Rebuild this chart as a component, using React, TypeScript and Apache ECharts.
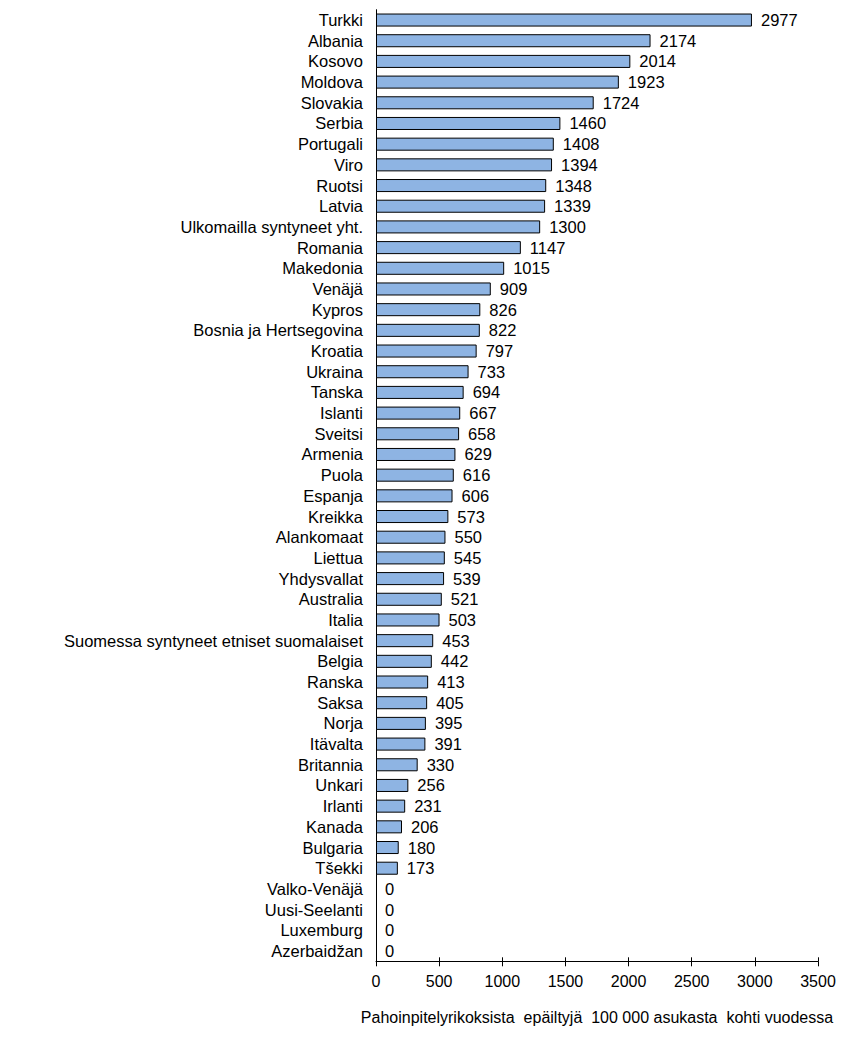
import React, { useEffect, useRef } from "react";
import * as echarts from "echarts";

const categories = [
  "Turkki", "Albania", "Kosovo", "Moldova", "Slovakia", "Serbia", "Portugali", "Viro", "Ruotsi", "Latvia",
  "Ulkomailla syntyneet yht.", "Romania", "Makedonia", "Venäjä", "Kypros", "Bosnia ja Hertsegovina", "Kroatia",
  "Ukraina", "Tanska", "Islanti", "Sveitsi", "Armenia", "Puola", "Espanja", "Kreikka", "Alankomaat", "Liettua",
  "Yhdysvallat", "Australia", "Italia", "Suomessa syntyneet etniset suomalaiset", "Belgia", "Ranska", "Saksa",
  "Norja", "Itävalta", "Britannia", "Unkari", "Irlanti", "Kanada", "Bulgaria", "Tšekki", "Valko-Venäjä",
  "Uusi-Seelanti", "Luxemburg", "Azerbaidžan",
];

const values = [
  2977, 2174, 2014, 1923, 1724, 1460, 1408, 1394, 1348, 1339,
  1300, 1147, 1015, 909, 826, 822, 797,
  733, 694, 667, 658, 629, 616, 606, 573, 550, 545,
  539, 521, 503, 453, 442, 413, 405,
  395, 391, 330, 256, 231, 206, 180, 173, 0,
  0, 0, 0,
];

const axisName = "Pahoinpitelyrikoksista  epäiltyjä  100 000 asukasta  kohti vuodessa";
const xMin = 0;
const xMax = 3500;
const xStep = 500;

export default function App() {
  const ref = useRef<HTMLDivElement>(null);
  useEffect(() => {
    if (!ref.current) return;
    const chart = echarts.init(ref.current, null, { renderer: "svg" });
    const font = "Arial, 'Liberation Sans', sans-serif";
    const seriesData = values.map((v) =>
      v === 0 ? { value: v, itemStyle: { borderWidth: 0, color: "transparent" } } : v
    );
    chart.setOption({
      animation: false,
      textStyle: { fontFamily: font },
      grid: { left: 376, right: 29, top: 9.7, bottom: 78.7, containLabel: false },
      xAxis: [
        {
          type: "value",
          min: xMin,
          max: xMax,
          interval: xStep,
          splitLine: { show: false },
          axisLine: { show: true, lineStyle: { color: "#000", width: 1 } },
          axisTick: { show: true, length: 5, lineStyle: { color: "#000" } },
          axisLabel: {
            color: "#000",
            fontSize: 16,
            fontFamily: font,
            margin: 12,
            formatter: (v: number) => String(v),
          },
          name: axisName,
          nameLocation: "middle",
          nameGap: 48,
          nameTextStyle: { color: "#000", fontSize: 16, fontFamily: font },
        },
        {
          type: "value",
          position: "bottom",
          min: xMin,
          max: xMax,
          interval: xStep,
          splitLine: { show: false },
          axisLine: { show: false },
          axisTick: { show: true, inside: true, length: 4, lineStyle: { color: "#000" } },
          axisLabel: { show: false },
        },
      ],
      yAxis: {
        type: "category",
        data: categories,
        inverse: true,
        axisLine: { show: true, lineStyle: { color: "#000", width: 1 } },
        axisTick: { show: false },
        axisLabel: { color: "#000", fontSize: 16.5, fontFamily: font, margin: 13, interval: 0 },
      },
      series: [
        {
          type: "bar",
          data: seriesData,
          barCategoryGap: "37%",
          itemStyle: { color: "#8EB4E3", borderColor: "#000", borderWidth: 1 },
          label: {
            show: true,
            position: "right",
            distance: 9,
            color: "#000",
            fontSize: 16.5,
            fontFamily: font,
          },
        },
      ],
    });
    return () => chart.dispose();
  }, []);
  return (
    <div
      ref={ref}
      style={{ position: "absolute", left: 0, top: 0, width: 847, height: 1040, background: "#fff" }}
    />
  );
}
